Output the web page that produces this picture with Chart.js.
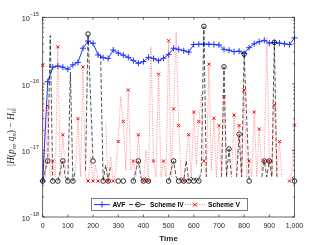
<!DOCTYPE html>
<html>
<head>
<meta charset="utf-8">
<script src="https://cdn.jsdelivr.net/npm/chart.js@4"></script>
<style>
  html, body { margin: 0; padding: 0; background: #fff; overflow: hidden; }
  #wrap { width: 327px; height: 245px; position: relative; }
</style>
</head>
<body>
<div id="wrap"><canvas id="chart" width="327" height="245"></canvas></div>
<script>
// --- Data ---
const seriesNames = ['AVF', 'Scheme IV', 'Scheme V'];
const xTicks = [0, 100, 200, 300, 400, 500, 600, 700, 800, 900, 1000];
const yDecades = [-18, -17, -16, -15];

const avfTime = [0, 20, 40, 60, 80, 100, 120, 140, 160, 180, 200, 220, 240, 260, 280, 300, 320, 340, 360, 380,
  400, 420, 440, 460, 480, 500, 520, 540, 560, 580, 600, 620, 640, 660, 680, 700, 720, 740, 760, 780,
  800, 820, 840, 860, 880, 900, 920, 940, 960, 980, 1000];
const avfValue = [3.47e-18, 1.08e-16, 1.78e-16, 1.86e-16, 1.78e-16, 1.66e-16, 1.93e-16, 2.1e-16, 3.43e-16, 4.4e-16,
  4.07e-16, 2.72e-16, 2.48e-16, 2.4e-16, 3.23e-16, 2.9e-16, 2.7e-16, 2.5e-16, 2.23e-16, 2.04e-16,
  2.16e-16, 2.5e-16, 2.4e-16, 2.23e-16, 2.43e-16, 2.75e-16, 3.43e-16, 3.3e-16, 3.15e-16, 3.0e-16,
  3.9e-16, 3.94e-16, 3.94e-16, 3.94e-16, 3.9e-16, 3.85e-16, 3.3e-16, 3.2e-16, 3.05e-16, 3.1e-16,
  2.85e-16, 3.5e-16, 4.0e-16, 4.3e-16, 4.5e-16, 4.1e-16, 4.2e-16, 4.1e-16, 4.0e-16, 3.9e-16, 4.9e-16];

// Scheme IV: null = zero error (gap on the log axis)
const ivTime = [0, 10, 20, 30, 40, 50, 60, 70, 80, 90, 100, 110, 120, 130, 140, 170, 180, 200, 210, 230,
  240, 250, 260, 270, 280, 300, 310, 320, 330, 360, 370, 380, 390, 400, 410, 420, 430, 500, 510, 520,
  530, 540, 550, 560, 570, 580, 590, 600, 610, 620, 630, 640, 650, 660, 710, 720, 730, 740, 750, 760,
  770, 780, 790, 800, 820, 830, 870, 880, 890, 900, 910, 920, 930, 940, 990, 1000];
const ivValue = [3.47e-18, 5e-18, 6.94e-18, 5.3e-16, 3.47e-18, null, 3.47e-18, 5e-18, 6.94e-18, 4e-18,
  3.47e-18, 1.5e-16, 3.47e-18, 5e-18, null, 5e-18, 5.6e-16, 6.94e-18, null, 2.7e-16,
  3.47e-18, 6e-18, 3.47e-18, 6e-18, null, 3.47e-18, null, 3.47e-18, null, 3.47e-18,
  5e-18, 6.94e-18, 4e-18, 3.47e-18, 4e-18, 3.47e-18, null, 3.47e-18, 5e-18, 6.94e-18,
  4e-18, 3.47e-18, 4e-18, 3.47e-18, 7e-18, 3.47e-18, 4e-18, 3.47e-18, 4e-18, 3.47e-18,
  5e-18, 7.3e-16, 4e-18, null, 4e-18, 1.8e-16, 4e-18, 1.05e-17, 4e-18, null,
  4e-18, 1.75e-17, 4e-18, 2.8e-16, 3.47e-18, null, 4e-18, 6.94e-18, 4e-18, 6.94e-18,
  4e-18, 4.2e-16, 4e-18, null, 4e-18, 3.47e-18];

const vTime = [0, 10, 20, 30, 40, 50, 60, 70, 80, 90, 100, 130, 140, 150, 160, 170, 180, 190, 200, 210,
  220, 230, 250, 260, 270, 280, 290, 300, 310, 320, 330, 340, 350, 360, 370, 380, 390, 400, 410, 420,
  430, 440, 450, 460, 470, 480, 490, 500, 510, 520, 530, 540, 550, 560, 570, 580, 590, 600, 610, 620,
  630, 640, 650, 660, 670, 680, 690, 700, 710, 720, 730, 740, 750, 760, 770, 780, 790, 800, 810, 820,
  830, 840, 850, 860, 870, 880, 890, 900, 910, 920, 930, 940, 950, 960, 980, 990, 1000];
const vValue = [1.9e-16, 4e-18, 4.7e-17, 4e-18, 6.94e-18, 4e-18, 3.6e-16, 4e-18, 1.72e-17, 5e-18,
  null, 5e-18, 3e-17, 4e-18, 1.8e-16, 4e-18, 3.47e-18, 8e-18, 3.47e-18, 6e-18,
  3.47e-18, null, 2.5e-17, 3.47e-18, 8e-18, 3.47e-18, 5e-18, 1.36e-17, 6.5e-17, 2.72e-17,
  5e-18, 8.1e-17, 5e-18, 6.94e-18, 4e-18, 1.72e-17, 4e-18, 3.47e-18, 1e-17, 3.47e-18,
  3.6e-16, 6.94e-18, 4e-18, 1.4e-16, 4e-18, 6.94e-18, 4e-18, 4.45e-16, 4e-18, 4.2e-17,
  6e-16, 2.37e-17, 4e-18, 3.47e-18, 8e-18, 1.72e-17, 4e-18, 3.78e-17, 6e-18, 2.72e-17,
  7e-17, 6.94e-18, 4e-18, 1.98e-16, 5e-18, 3.05e-17, 4e-18, 2.37e-17, 4e-18, 6.4e-17,
  4e-18, null, 4e-18, 3.4e-17, 4e-18, 2.37e-17, 4e-18, 8.1e-17, 4e-18, 6.94e-18,
  4e-18, 3.78e-17, 4e-18, 2.1e-17, 5e-18, 6.94e-18, 5e-16, 6.94e-18, 4e-18, 4.8e-17,
  4e-18, 1.36e-17, 4e-18, null, 3.47e-18, 5e-18, 2.4e-17];

// --- Styles ---
const BLUE = 'rgb(30,55,255)';
const DARK = '#262626';
const SANS = '"Liberation Sans", Arial, sans-serif';
const SERIF = '"Liberation Serif", "Times New Roman", serif';

const pts = (ts, vs) => ts.map((t, i) => ({ x: t, y: vs[i] }));
// markers only every 20 time units
const markerRadius = r => ctx => (ctx.raw && ctx.raw.y != null && ctx.raw.x % 20 === 0 ? r : 0);

// --- Marker helpers (also used by the legend) ---
function drawMarker(ctx, kind, x, y) {
  ctx.save();
  ctx.beginPath();
  if (kind === 'plus') {
    ctx.strokeStyle = BLUE; ctx.lineWidth = 1;
    ctx.moveTo(x - 3, y); ctx.lineTo(x + 3, y);
    ctx.moveTo(x, y - 3); ctx.lineTo(x, y + 3);
  } else if (kind === 'circle') {
    ctx.strokeStyle = '#000'; ctx.lineWidth = 0.8;
    ctx.arc(x, y, 2.3, 0, Math.PI * 2);
  } else {
    ctx.strokeStyle = 'rgb(255,0,0)'; ctx.lineWidth = 1;
    ctx.moveTo(x - 2, y - 2); ctx.lineTo(x + 2, y + 2);
    ctx.moveTo(x + 2, y - 2); ctx.lineTo(x - 2, y + 2);
  }
  ctx.stroke();
  ctx.restore();
}

// --- MATLAB-like axes box, ticks, labels and legend ---
const matlabAxes = {
  id: 'matlabAxes',
  afterDraw(chart) {
    const { ctx, chartArea: a, scales: { x, y } } = chart;
    ctx.save();

    // box
    ctx.strokeStyle = DARK;
    ctx.lineWidth = 0.7;
    ctx.strokeRect(a.left, a.top, a.right - a.left, a.bottom - a.top);

    // x ticks (inside, bottom and top)
    ctx.beginPath();
    xTicks.forEach(t => {
      const px = x.getPixelForValue(t);
      ctx.moveTo(px, a.bottom); ctx.lineTo(px, a.bottom - 2.5);
      ctx.moveTo(px, a.top); ctx.lineTo(px, a.top + 2.5);
    });
    // y major + minor ticks (inside, left and right)
    yDecades.forEach((d, i) => {
      const py = y.getPixelForValue(Math.pow(10, d));
      ctx.moveTo(a.left, py); ctx.lineTo(a.left + 2.5, py);
      ctx.moveTo(a.right, py); ctx.lineTo(a.right - 2.5, py);
      if (i < yDecades.length - 1) {
        for (let m = 2; m <= 9; m++) {
          const pm = y.getPixelForValue(m * Math.pow(10, d));
          ctx.moveTo(a.left, pm); ctx.lineTo(a.left + 1.4, pm);
          ctx.moveTo(a.right, pm); ctx.lineTo(a.right - 1.4, pm);
        }
      }
    });
    ctx.stroke();

    // y tick labels 10^d
    ctx.fillStyle = DARK;
    ctx.textBaseline = 'middle';
    yDecades.forEach(d => {
      const py = y.getPixelForValue(Math.pow(10, d));
      const exp = '\u2212' + Math.abs(d);
      ctx.font = '5.4px ' + SANS;
      const ew = ctx.measureText(exp).width;
      ctx.textAlign = 'left';
      ctx.fillText(exp, 39 - ew, py - 2.6);
      ctx.font = '7.4px ' + SANS;
      ctx.textAlign = 'right';
      ctx.fillText('10', 39 - ew, py + 1.7);
    });

    // y axis title |H(p_n, q_n) - H_0|
    const parts = [
      ['|', ''], ['H', 'i'], ['(', ''], ['p', 'i'], ['n', 'is'], [', ', ''], ['q', 'i'], ['n', 'is'],
      [')', ''], [' \u2212 ', ''], ['H', 'i'], ['0', 's'], ['|', '']
    ];
    const fontFor = f => (f.includes('i') ? 'italic ' : '') + (f.includes('s') ? '6.5px ' : '9.5px ') + SERIF;
    let total = 0;
    parts.forEach(([t, f]) => { ctx.font = fontFor(f); total += ctx.measureText(t).width; });
    ctx.save();
    ctx.translate(11, 137);
    ctx.rotate(-Math.PI / 2);
    ctx.textAlign = 'left';
    ctx.textBaseline = 'alphabetic';
    let cx = -total / 2;
    parts.forEach(([t, f]) => {
      ctx.font = fontFor(f);
      ctx.fillText(t, cx, f.includes('s') ? 4.6 : 3);
      cx += ctx.measureText(t).width;
    });
    ctx.restore();

    // legend
    const lg = { left: 91.7, top: 198.5, right: 247.5, bottom: 210.7 };
    const cy = (lg.top + lg.bottom) / 2;
    ctx.fillStyle = '#fff';
    ctx.fillRect(lg.left, lg.top, lg.right - lg.left, lg.bottom - lg.top);
    ctx.strokeStyle = DARK;
    ctx.lineWidth = 0.6;
    ctx.strokeRect(lg.left, lg.top, lg.right - lg.left, lg.bottom - lg.top);

    const entries = [
      { x0: 94, x1: 110, tx: 112.5, color: BLUE, dash: [], marker: 'plus', width: 1 },
      { x0: 129, x1: 147, tx: 150, color: '#000', dash: [4, 2], marker: 'circle', width: 0.8 },
      { x0: 185, x1: 205, tx: 208, color: 'rgba(255,40,40,0.7)', dash: [1, 1.4], marker: 'cross', width: 1 }
    ];
    entries.forEach((e, i) => {
      ctx.save();
      ctx.beginPath();
      ctx.strokeStyle = e.color;
      ctx.lineWidth = e.width;
      ctx.setLineDash(e.dash);
      ctx.moveTo(e.x0, cy); ctx.lineTo(e.x1, cy);
      ctx.stroke();
      ctx.restore();
      drawMarker(ctx, e.marker, (e.x0 + e.x1) / 2, cy);
      ctx.fillStyle = '#000';
      ctx.font = 'bold 6.7px ' + SANS;
      ctx.textAlign = 'left';
      ctx.textBaseline = 'middle';
      ctx.fillText(seriesNames[i], e.tx, cy + 0.3);
    });

    ctx.restore();
  }
};

new Chart(document.getElementById('chart').getContext('2d'), {
  type: 'line',
  data: {
    datasets: [
      {
        label: seriesNames[0],
        data: pts(avfTime, avfValue),
        borderColor: BLUE,
        borderWidth: 1,
        pointStyle: 'cross',
        pointRadius: markerRadius(3),
        pointBorderColor: BLUE,
        pointBorderWidth: 1,
        order: 2,
        clip: false
      },
      {
        label: seriesNames[1],
        data: pts(ivTime, ivValue),
        borderColor: 'rgba(0,0,0,0.85)',
        borderWidth: 0.8,
        borderDash: [4, 2],
        pointStyle: 'circle',
        pointRadius: markerRadius(2.3),
        pointBackgroundColor: 'rgba(0,0,0,0)',
        pointBorderColor: '#000',
        pointBorderWidth: 0.8,
        order: 1,
        clip: false
      },
      {
        label: seriesNames[2],
        data: pts(vTime, vValue),
        borderColor: 'rgba(255,40,40,0.55)',
        borderWidth: 1,
        borderDash: [1, 1.4],
        pointStyle: 'crossRot',
        pointRadius: markerRadius(2.2),
        pointBorderColor: 'rgb(255,0,0)',
        pointBorderWidth: 1,
        order: 0,
        clip: false
      }
    ]
  },
  options: {
    responsive: false,
    animation: false,
    devicePixelRatio: 1,
    spanGaps: false,
    layout: { padding: { top: 17.3, right: 32.5, left: 0, bottom: 0 } },
    plugins: { legend: { display: false }, tooltip: { enabled: false } },
    elements: { line: { tension: 0 } },
    scales: {
      x: {
        type: 'linear',
        min: 0,
        max: 1000,
        grid: { display: false, drawTicks: false },
        border: { display: false },
        ticks: {
          stepSize: 100,
          autoSkip: false,
          maxRotation: 0,
          padding: 5,
          color: DARK,
          font: { family: SANS, size: 7 }
        },
        title: {
          display: true,
          text: 'Time',
          color: DARK,
          font: { family: SANS, size: 8, weight: 'bold' },
          padding: { top: 0, bottom: 1 }
        },
        afterFit: s => { s.height = 28; }
      },
      y: {
        type: 'logarithmic',
        min: 1e-18,
        max: 1e-15,
        grid: { display: false, drawTicks: false },
        border: { display: false },
        ticks: { display: false },
        afterFit: s => { s.width = 42.7; }
      }
    }
  },
  plugins: [matlabAxes]
});
</script>
</body>
</html>
